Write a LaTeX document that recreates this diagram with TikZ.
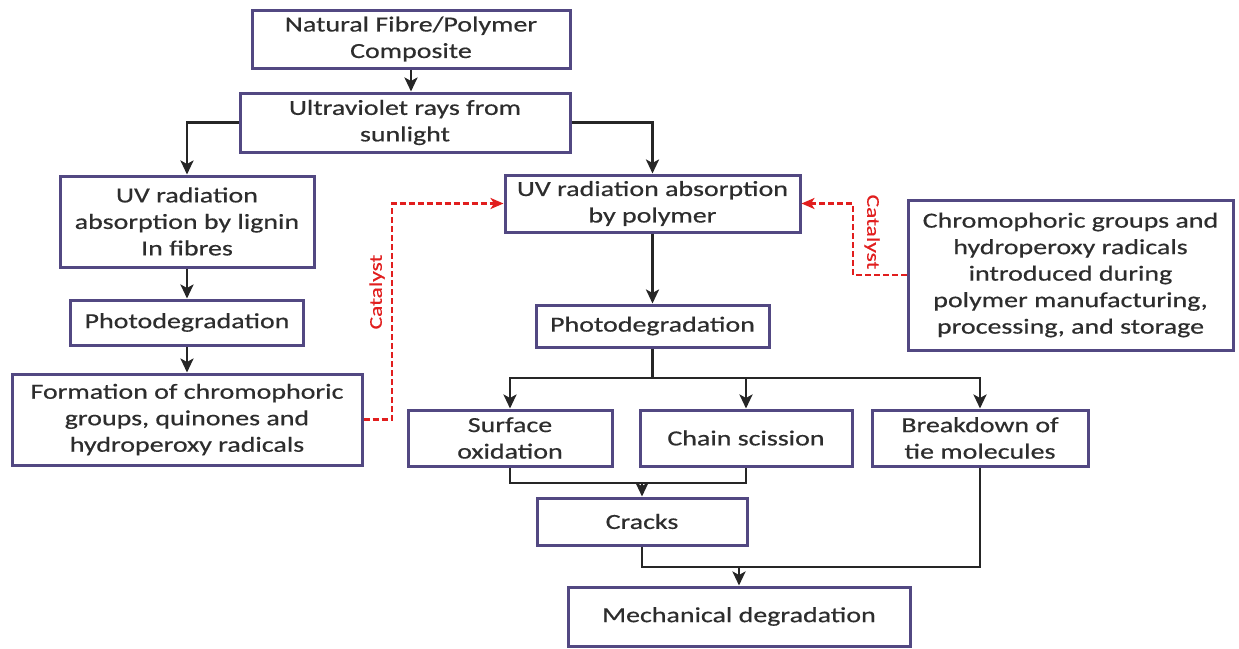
\documentclass[tikz,border=0pt]{standalone}
\usepackage{fontspec}
\setmainfont[FakeStretch=1.3,FakeBold=0.5]{Carlito}
\usetikzlibrary{arrows.meta}
\definecolor{boxc}{RGB}{82,72,130}
\definecolor{txtc}{RGB}{45,45,45}
\definecolor{catc}{RGB}{225,30,30}
\tikzset{
  box/.style={draw=boxc, line width=3pt, fill=white, align=center, inner sep=0pt,
    text=txtc, font=\fontsize{21.5}{26.5}\selectfont},
  arr/.style={draw=black!85, line width=2.8pt, -{Stealth[length=14pt,width=13pt,inset=3.5pt]}},
  ln/.style={draw=black!85, line width=2.8pt},
  catline/.style={draw=catc, line width=2.5pt, dash pattern=on 6pt off 3pt, -{Stealth[length=13pt,width=11pt,inset=3.5pt]}},
  cat/.style={text=catc, inner sep=0pt, font=\fontsize{18}{20}\selectfont},
}
\begin{document}
\begin{tikzpicture}[x=1pt,y=-1pt]
\useasboundingbox (0,0) rectangle (1239,648);
\fill[white] (0,0) rectangle (1239,648);
% nodes
\node[box, minimum width=318pt, minimum height=58pt] (n1) at (411,39) {Natural Fibre/Polymer\\Composite};
\node[box, minimum width=330pt, minimum height=59pt] (n2) at (405,122.5) {Ultraviolet rays from\\sunlight};
\node[box, minimum width=254pt, minimum height=91pt] (l1) at (187,221.5) {UV radiation\\absorption by lignin\\In fibres};
\node[box, minimum width=233pt, minimum height=45pt] (l2) at (187,322.5) {Photodegradation};
\node[box, minimum width=350pt, minimum height=91pt] (l3) at (187,419.5) {Formation of chromophoric\\groups, quinones and\\hydroperoxy radicals};
\node[box, minimum width=295pt, minimum height=57pt] (p1) at (652.5,203.5) {UV radiation absorption\\by polymer};
\node[box, minimum width=233pt, minimum height=42pt] (p2) at (652.5,326) {Photodegradation};
\node[box, minimum width=325pt, minimum height=150pt] (ch) at (1070.5,275) {Chromophoric groups and\\hydroperoxy radicals\\introduced during\\polymer manufacturing,\\processing, and storage};
\node[box, minimum width=204pt, minimum height=56pt] (s) at (510,438) {Surface\\oxidation};
\node[box, minimum width=212pt, minimum height=56pt] (c) at (746,438) {Chain scission};
\node[box, minimum width=216pt, minimum height=56pt] (b) at (980,438) {Breakdown of\\tie molecules};
\node[box, minimum width=210pt, minimum height=47pt] (cr) at (642,521.5) {Cracks};
\node[box, minimum width=342pt, minimum height=59pt] (m) at (739,616.5) {Mechanical degradation};
% connectors
\draw[arr] (n1.south) -- (n1.south |- n2.north);
\draw[arr] (n2.west) -| (l1.north);
\draw[arr] (n2.east) -| (p1.north);
\draw[arr] (l1.south) -- (l2.north);
\draw[arr] (l2.south) -- (l3.north);
\draw[arr] (p1.south) -- (p2.north);
\coordinate (br) at (652.5,378);
\draw[ln] (p2.south) -- (br);
\draw[arr] (br) -| (s.north);
\draw[arr] (br) -| (b.north);
\draw[arr] (c.north |- br) -- (c.north);
\coordinate (j) at (642,483);
\draw[ln] (s.south) |- (c.south |- j) -- (c.south);
\draw[arr] (j) -- (cr.north);
\coordinate (k) at (739,567);
\draw[ln] (cr.south) |- (b.south |- k) -- (b.south);
\draw[arr] (k) -- (m.north);
% catalyst
\draw[catline] (l3.east) -- (392,419.5) |- (p1.west);
\draw[catline] (ch.west) -- (853,275) |- (p1.east);
\node[cat, rotate=90] (cat1) at (377,292) {Catalyst};
\node[cat, rotate=-90] (cat2) at (872,232) {Catalyst};
\end{tikzpicture}
\end{document}
